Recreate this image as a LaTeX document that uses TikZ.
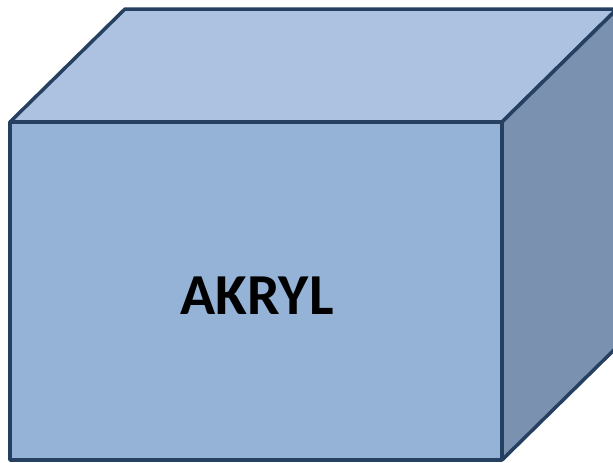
\documentclass[tikz,border=0pt]{standalone}
\usepackage{fontspec}
\setmainfont{Carlito}
\usetikzlibrary{calc}
\definecolor{boxline}{RGB}{37,64,97}
\definecolor{boxfront}{RGB}{149,179,215}
\definecolor{boxtop}{RGB}{173,194,224}
\definecolor{boxside}{RGB}{122,145,175}

\begin{document}
\begin{tikzpicture}[x=1pt, y=-1pt,
                    face/.style={draw=boxline, line width=3.5pt, line join=bevel}]
\useasboundingbox (0,0) rectangle (613,463);
\clip (0,0) rectangle (613,463);
\coordinate (ftl) at (10,122);
\coordinate (ftr) at (502,122);
\coordinate (fbr) at (502,460);
\coordinate (fbl) at (10,460);
\coordinate (btl) at ($(ftl)+(115,-113)$);
\coordinate (btr) at ($(ftr)+(115,-113)$);
\coordinate (bbr) at ($(fbr)+(115,-113)$);

\draw[face, fill=boxtop] (ftl) -- (btl) -- (btr) -- (ftr) -- cycle;
\draw[face, fill=boxside] (ftr) -- (btr) -- (bbr) -- (fbr) -- cycle;
\draw[face, fill=boxfront] (ftl) rectangle (fbr);

\node (name) at (257,296) {\fontsize{58}{60}\selectfont\bfseries AKRYL};
\end{tikzpicture}
\end{document}
